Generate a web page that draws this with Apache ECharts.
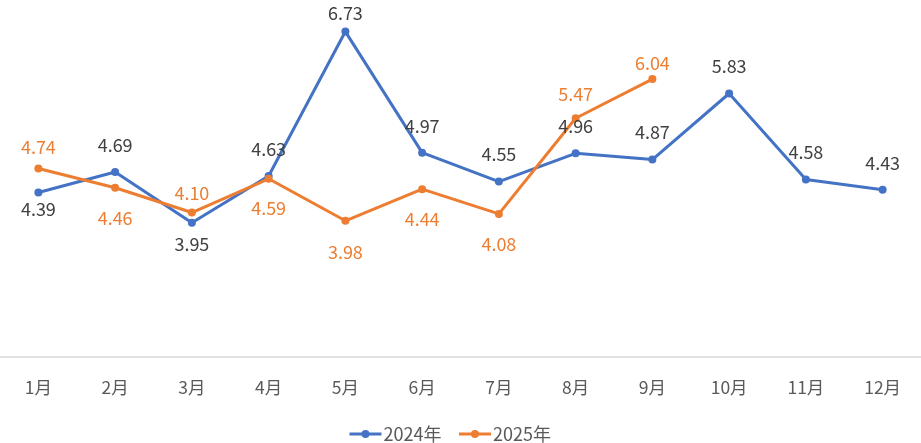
<!DOCTYPE html>
<html>
<head>
<meta charset="utf-8">
<script src="https://cdn.jsdelivr.net/npm/echarts@6/dist/echarts.min.js"></script>
<style>
html, body { margin: 0; padding: 0; background: #fff; }
#chart { width: 921px; height: 443px; }
</style>
</head>
<body>
<div id="chart"></div>
<script>
// Chart data
var months = ['1月', '2月', '3月', '4月', '5月', '6月', '7月', '8月', '9月', '10月', '11月', '12月'];
var values2024 = [4.39, 4.69, 3.95, 4.63, 6.73, 4.97, 4.55, 4.96, 4.87, 5.83, 4.58, 4.43];
var values2025 = [4.74, 4.46, 4.10, 4.59, 3.98, 4.44, 4.08, 5.47, 6.04, null, null, null];

// Label placement (style only): side and gap from the point
var side2024 = ['bottom', 'top', 'bottom', 'top', 'top', 'top', 'top', 'top', 'top', 'top', 'top', 'top'];
var gap2024 = [4, 14, 8, 14, 5, 14, 14, 14, 14, 14, 14, 14];
var side2025 = ['top', 'bottom', 'top', 'bottom', 'bottom', 'bottom', 'bottom', 'top', 'top'];
var gap2025 = [8, 17, 6, 16, 18, 17, 17, 11, 3];

var FONT = '"Noto Sans CJK SC", "Noto Sans", sans-serif';

function buildData(values, side, gap) {
	return values.map(function (v, i) {
		if (v === null) return null;
		return {
			value: v,
			label: { position: side[i], distance: gap[i] }
		};
	});
}

var chart = echarts.init(document.getElementById('chart'));

chart.setOption({
	animation: false,
	textStyle: { fontFamily: FONT },
	grid: { left: 0, right: 0, top: 13, bottom: 86, containLabel: false },
	legend: {
		top: 420,
		left: 343,
		itemWidth: 32,
		itemHeight: 10,
		itemGap: 16,
		lineStyle: { width: 3 },
		textStyle: { fontSize: 18, color: '#595959', fontFamily: FONT, padding: [0, 0, 0, -3] },
		data: ['2024年', '2025年']
	},
	xAxis: {
		type: 'category',
		data: months,
		boundaryGap: true,
		axisLine: { lineStyle: { color: '#d9d9d9', width: 1.5 } },
		axisTick: { length: 6, lineStyle: { color: '#d9d9d9' } },
		axisLabel: { margin: 22, fontSize: 17.5, color: '#595959', fontFamily: FONT }
	},
	yAxis: {
		type: 'value',
		min: 2,
		max: 7,
		show: false
	},
	series: [
		{
			name: '2024年',
			type: 'line',
			data: buildData(values2024, side2024, gap2024),
			symbol: 'circle',
			symbolSize: 8,
			lineStyle: { width: 3, color: '#4472c4' },
			itemStyle: { color: '#4472c4' },
			label: {
				show: true,
				fontSize: 18,
				color: '#404040',
				fontFamily: FONT,
				formatter: function (p) { return p.value.toFixed(2); }
			}
		},
		{
			name: '2025年',
			type: 'line',
			data: buildData(values2025, side2025, gap2025),
			symbol: 'circle',
			symbolSize: 8,
			lineStyle: { width: 3, color: '#ed7d31' },
			itemStyle: { color: '#ed7d31' },
			label: {
				show: true,
				fontSize: 18,
				color: '#ed7d31',
				fontFamily: FONT,
				formatter: function (p) { return p.value.toFixed(2); }
			}
		}
	]
});
</script>
</body>
</html>
